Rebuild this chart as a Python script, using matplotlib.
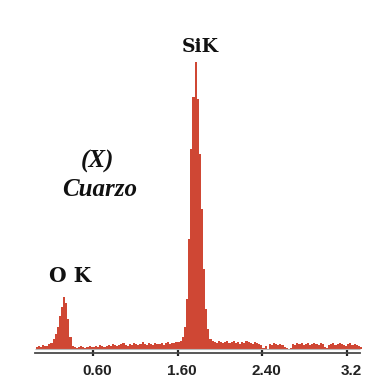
import matplotlib
matplotlib.use("Agg")
import matplotlib.pyplot as plt
import matplotlib.transforms as mtransforms
import numpy as np

# EDS spectrum of quartz: counts per 0.02 keV channel
channel_start_kev = 0.26
channel_width_kev = 0.02
counts = [
    # 0.26 - 0.38 keV
    2, 3, 2, 4, 3, 3, 5,
    # 0.40 - 0.60 keV (O K)
    6, 10, 15, 22, 33, 42, 52, 46, 30, 12, 3,
    # 0.62 - 1.58 keV
    2, 1, 2, 3, 2, 1, 2, 3, 2, 2,
    3, 2, 4, 3, 2, 3, 4, 3, 5, 4,
    3, 4, 5, 6, 4, 3, 5, 4, 6, 5,
    4, 5, 7, 5, 4, 6, 5, 4, 6, 5,
    5, 6, 4, 6, 7, 5, 6, 6, 7,
    # 1.60 - 1.90 keV (Si K)
    7, 8, 12, 22, 50, 110, 200, 252, 287, 250, 195, 140, 80, 40, 20, 10,
    # 1.92 - 3.32 keV
    8, 7, 6, 8, 7, 6, 7, 8, 6, 7,
    8, 6, 7, 5, 7, 6, 8, 7, 6, 5,
    7, 6, 5, 4,
    1, 3, 0,
    5, 4, 6, 5, 4, 5, 4, 2,
    1, 0, 1,
    5, 4, 6, 5, 6, 4, 5, 6, 4, 5,
    6, 5, 4, 6, 5, 2, 1, 4, 5, 6,
    4, 5, 6, 5, 4, 3, 5, 6, 4, 5,
    4, 3, 2,
]

tick_positions = [0.8, 1.6, 2.4, 3.2]
tick_labels = ["0.60", "1.60", "2.40", "3.2"]

peak_labels = ["SiK", "O K"]
peak_label_kev = [1.81, 0.585]
peak_label_counts = [297, 67]

sample_code = "(X)"
sample_name = "Cuarzo"

energies = channel_start_kev + channel_width_kev * np.arange(len(counts))

fig = plt.figure(figsize=(3.77, 3.81), dpi=100)
fig.patch.set_facecolor("white")
ax = fig.add_axes([0.0, 28 / 381, 1.0, 353 / 381])
ax.set_xlim(-0.0755, 3.481)
ax.set_ylim(-4, 349)

ax.bar(energies, counts, width=channel_width_kev, align="edge",
       color="#cf4734", linewidth=0)

# faint baseline of the spectrum window
ax.plot([0.25, 3.32], [0, 0], color="#b8b8b8", lw=0.8, solid_capstyle="butt")

for side in ("top", "right", "left"):
    ax.spines[side].set_visible(False)
ax.spines["bottom"].set_bounds(0.25, 3.32)
ax.spines["bottom"].set_color("#4a4a4a")
ax.spines["bottom"].set_linewidth(1.3)

ax.set_yticks([])
ax.set_xticks(tick_positions)
ax.set_xticklabels(tick_labels, fontfamily="Liberation Sans",
                   fontweight="bold", fontsize=11, color="#222222")
ax.tick_params(axis="x", direction="inout", length=4, width=1.6,
               color="#222222", pad=6)
shift = mtransforms.ScaledTranslation(4 / 100, 0, fig.dpi_scale_trans)
for lbl in ax.get_xticklabels():
    lbl.set_transform(lbl.get_transform() + shift)

ax.text(peak_label_kev[0], peak_label_counts[0], peak_labels[0],
        ha="center", va="baseline", fontfamily="DejaVu Serif",
        fontweight="bold", fontsize=13.5, color="#111111")
ax.text(peak_label_kev[1], peak_label_counts[1], peak_labels[1],
        ha="center", va="baseline", fontfamily="DejaVu Serif",
        fontweight="bold", fontsize=14.5, color="#111111")

ax.text(0.845, 181, sample_code, ha="center", va="baseline",
        fontfamily="Liberation Serif", fontweight="bold", fontstyle="italic",
        fontsize=18, color="#111111")
ax.text(0.868, 153, sample_name, ha="center", va="baseline",
        fontfamily="Liberation Serif", fontweight="bold", fontstyle="italic",
        fontsize=18, color="#111111")

fig.savefig("out.png", dpi=100, facecolor="white")
